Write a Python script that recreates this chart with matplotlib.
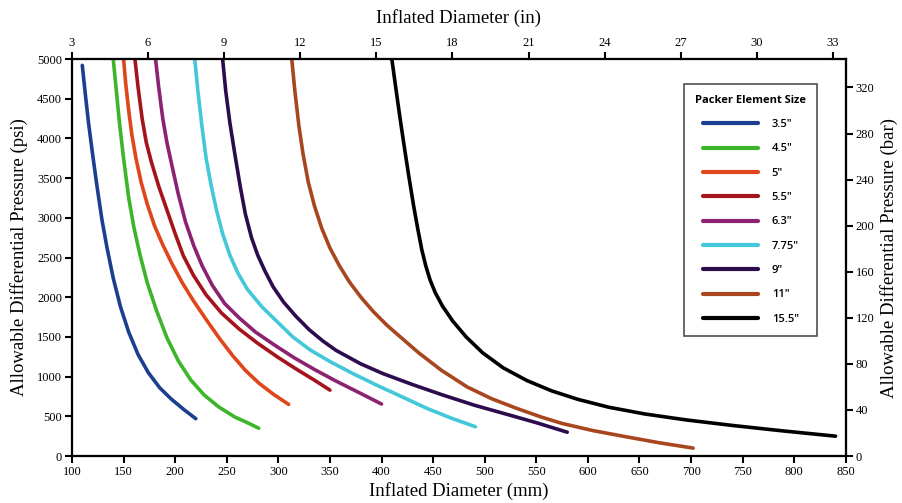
import matplotlib
matplotlib.use("Agg")
import matplotlib.pyplot as plt

plt.rcParams['font.family'] = 'Liberation Serif'

# packer element sizes and colours
sizes = ['3.5"', '4.5"', '5"', '5.5"', '6.3"', '7.75"', '9"', '11"', '15.5"']
colors = ['#1b3f8e', '#3db52b', '#e0461c', '#a5141c', '#8c2272',
          '#43c8d9', '#2d0c4e', '#a8471f', '#000000']

# inflated diameter (mm) vs allowable differential pressure (psi)
d35 = [110, 113, 116, 120, 124, 129, 134, 140, 147, 155, 164, 174, 185, 196, 208, 220]
p35 = [4920, 4550, 4200, 3800, 3420, 2980, 2620, 2240, 1880, 1560, 1280, 1050, 860, 720, 590, 470]

d45 = [140, 143, 146, 150, 155, 160, 166, 173, 182, 192, 203, 215, 228, 242, 258, 270, 281]
p45 = [5000, 4600, 4200, 3750, 3250, 2880, 2530, 2180, 1830, 1490, 1200, 960, 770, 620, 490, 420, 350]

d50 = [150, 152, 155, 158, 162, 167, 173, 180, 188, 197, 207, 218, 230, 243, 256, 268, 281, 295, 310]
p50 = [5000, 4700, 4350, 4050, 3750, 3450, 3170, 2900, 2660, 2420, 2180, 1950, 1720, 1480, 1260, 1080, 920, 780, 650]

d55 = [161, 164, 168, 172, 177, 184, 192, 200, 208, 218, 230, 245, 262, 280, 300, 318, 335, 350]
p55 = [5000, 4650, 4250, 3950, 3700, 3400, 3100, 2800, 2520, 2270, 2030, 1800, 1600, 1420, 1240, 1090, 955, 830]

d63 = [181, 184, 188, 192, 197, 203, 210, 218, 226, 236, 248, 262, 278, 296, 315, 335, 355, 378, 400]
p63 = [5000, 4650, 4250, 3950, 3650, 3300, 2950, 2650, 2400, 2150, 1920, 1740, 1560, 1400, 1240, 1090, 950, 800, 655]

d775 = [219, 222, 226, 230, 235, 240, 246, 253, 261, 270, 284, 299, 314, 331, 350, 372, 395, 420, 444, 467, 491]
p775 = [5000, 4600, 4150, 3750, 3400, 3100, 2800, 2530, 2300, 2100, 1880, 1690, 1500, 1335, 1190, 1040, 894, 745, 600, 480, 369]

d90 = [246, 249, 253, 258, 263, 268, 274, 280, 287, 295, 305, 317, 330, 343, 356, 380, 401, 430, 459, 490, 524, 550, 580]
p90 = [5000, 4600, 4200, 3790, 3400, 3050, 2750, 2530, 2330, 2130, 1940, 1760, 1590, 1450, 1330, 1160, 1040, 900, 770, 640, 516, 420, 300]

d110 = [313, 316, 320, 324, 329, 335, 342, 350, 359, 369, 380, 392, 405, 420, 436, 458, 483, 507, 531, 555, 575, 605, 638, 670, 702]
p110 = [5000, 4600, 4150, 3800, 3450, 3150, 2870, 2620, 2400, 2190, 2000, 1820, 1650, 1480, 1300, 1080, 870, 720, 600, 490, 410, 320, 240, 165, 100]

d155 = [410, 414, 418, 422, 426, 431, 435, 439, 443, 447, 452, 459, 469, 482, 498, 518, 541, 565,
        590, 620, 655, 695, 740, 790, 840]
p155 = [5000, 4620, 4250, 3900, 3560, 3160, 2870, 2600, 2390, 2220, 2060, 1890, 1700, 1500, 1300, 1110, 950, 820,
        715, 615, 530, 455, 385, 315, 250]

diam = [d35, d45, d50, d55, d63, d775, d90, d110, d155]
pres = [p35, p45, p50, p55, p63, p775, p90, p110, p155]

fig = plt.figure(figsize=(9.03, 5.03), dpi=100)
ax = fig.add_axes([0.0797, 0.0934, 0.857, 0.7893])

for d, p, c, s in zip(diam, pres, colors, sizes):
    ax.plot(d, p, color=c, lw=2.6, label=s, solid_capstyle='round', solid_joinstyle='round')

ax.set_xlim(100, 850)
ax.set_ylim(0, 5000)
ax.set_xticks(range(100, 851, 50))
ax.set_yticks(range(0, 5001, 500))
ax.set_xlabel('Inflated Diameter (mm)', fontsize=13.5, labelpad=3)
ax.set_ylabel('Allowable Differential Pressure (psi)', fontsize=13.5, labelpad=7)

# top axis in inches, right axis in bar
axt = ax.twiny()
axt.set_xlim(3, 33.51)
axt.set_xticks(range(3, 34, 3))
axt.set_xlabel('Inflated Diameter (in)', fontsize=13.5, labelpad=10)

axr = ax.twinx()
axr.set_ylim(0, 5000 / 14.5038)
axr.set_yticks(range(0, 321, 40))
axr.set_ylabel('Allowable Differential Pressure (bar)', fontsize=13.5, labelpad=4)

for a in (ax, axt, axr):
    a.tick_params(direction='out', length=5, width=1.5, labelsize=9, pad=2)
    for sp in a.spines.values():
        sp.set_linewidth(1.5)

leg = ax.legend(title='Packer Element Size', loc='upper left',
                bbox_to_anchor=(0.784, 0.952), frameon=True, fancybox=False,
                edgecolor='#222222', handlelength=5.0, labelspacing=1.2,
                borderpad=1.0, handletextpad=1.2,
                prop={'family': 'Open Sans', 'weight': 'semibold', 'size': 8})
leg.get_title().set_fontfamily('Open Sans')
leg.get_title().set_fontweight('bold')
leg.get_title().set_fontsize(8)
leg.get_frame().set_linewidth(1.2)
for line in leg.get_lines():
    line.set_linewidth(3)

fig.savefig('out.png', dpi=100)
